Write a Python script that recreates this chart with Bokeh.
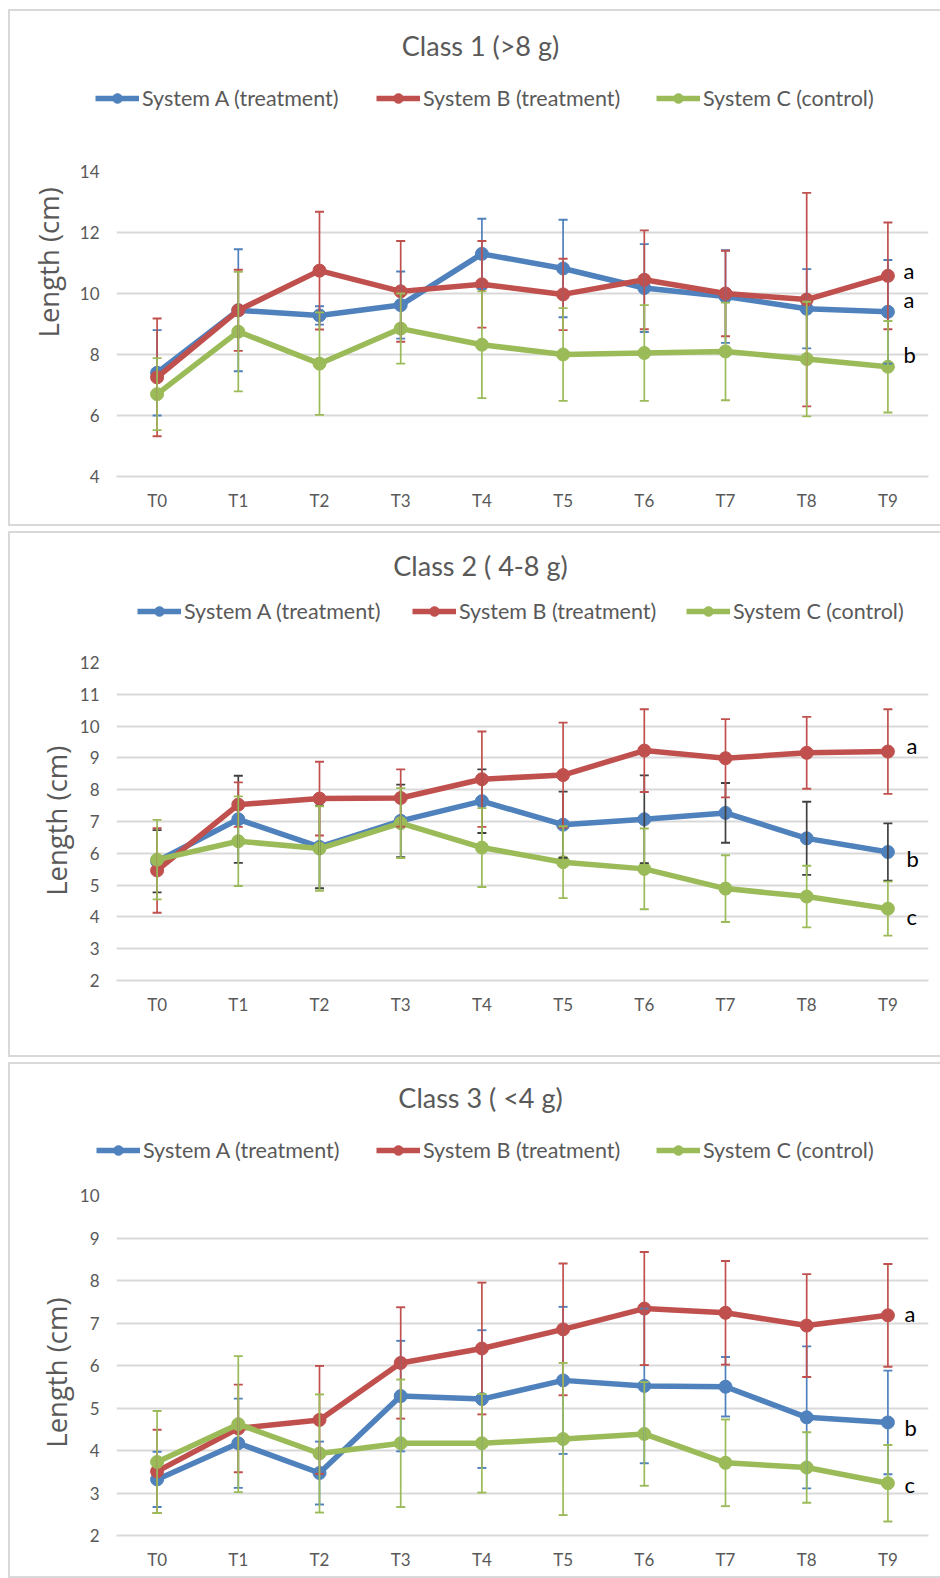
from bokeh.plotting import figure
from bokeh.models import (ColumnDataSource, Whisker, TeeHead, Label, Legend, LegendItem,
                          FixedTicker, FactorRange, Range1d, Spacer)
from bokeh.layouts import column, row
from bokeh.embed import file_html
from bokeh.resources import INLINE

times = ["T0", "T1", "T2", "T3", "T4", "T5", "T6", "T7", "T8", "T9"]
series_names = ["System A (treatment)", "System B (treatment)", "System C (control)"]

# Class 1 (>8 g)
c1_a_mean = [7.4, 9.45, 9.28, 9.62, 11.3, 10.82, 10.18, 9.9, 9.5, 9.4]
c1_a_sd = [1.4, 2.0, 0.3, 1.1, 1.15, 1.6, 1.44, 1.52, 1.3, 1.7]
c1_b_mean = [7.25, 9.45, 10.75, 10.07, 10.3, 9.97, 10.45, 10.0, 9.8, 10.58]
c1_b_sd = [1.93, 1.33, 1.93, 1.65, 1.42, 1.17, 1.62, 1.4, 3.5, 1.75]
c1_c_mean = [6.7, 8.75, 7.7, 8.85, 8.32, 8.0, 8.05, 8.1, 7.85, 7.6]
c1_c_sd = [1.18, 1.96, 1.68, 1.15, 1.75, 1.52, 1.57, 1.6, 1.88, 1.5]
c1_letters = ["a", "a", "b"]
c1_ticks = [4, 6, 8, 10, 12, 14]

# Class 2 (4-8 g)
c2_a_mean = [5.75, 7.07, 6.2, 7.02, 7.64, 6.9, 7.07, 7.27, 6.47, 6.04]
c2_a_sd = [0.98, 1.37, 1.3, 1.14, 1.0, 1.04, 1.38, 0.94, 1.15, 0.9]
c2_b_mean = [5.46, 7.53, 7.72, 7.74, 8.33, 8.46, 9.23, 8.99, 9.16, 9.2]
c2_b_sd = [1.33, 0.7, 1.16, 0.9, 1.5, 1.65, 1.3, 1.23, 1.13, 1.33]
c2_c_mean = [5.8, 6.38, 6.15, 6.95, 6.18, 5.72, 5.51, 4.89, 4.64, 4.26]
c2_c_sd = [1.25, 1.41, 1.33, 1.1, 1.24, 1.13, 1.27, 1.05, 0.97, 0.85]
c2_letters = ["a", "b", "c"]
c2_ticks = [2, 3, 4, 5, 6, 7, 8, 9, 10, 11, 12]

# Class 3 (<4 g)
c3_a_mean = [3.32, 4.17, 3.47, 5.28, 5.21, 5.65, 5.52, 5.5, 4.78, 4.66]
c3_a_sd = [0.65, 1.05, 0.74, 1.3, 1.62, 1.73, 1.82, 0.7, 1.67, 1.22]
c3_b_mean = [3.51, 4.52, 4.72, 6.06, 6.4, 6.85, 7.34, 7.24, 6.94, 7.18]
c3_b_sd = [0.98, 1.03, 1.27, 1.31, 1.55, 1.55, 1.33, 1.22, 1.21, 1.21]
c3_c_mean = [3.73, 4.62, 3.93, 4.17, 4.17, 4.27, 4.39, 3.71, 3.6, 3.23]
c3_c_sd = [1.2, 1.6, 1.39, 1.5, 1.16, 1.79, 1.22, 1.02, 0.83, 0.9]
c3_letters = ["a", "b", "c"]
c3_ticks = [2, 3, 4, 5, 6, 7, 8, 9, 10]

BLUE = "#4F81BD"
RED = "#C0504D"
GREEN = "#9BBB59"
GRID = "#D9D9D9"
TXT = "#595959"
FONT = "Lato"
W = 930
LABW = 66
NAN = float("nan")


def blank_fig(w, h):
    f = figure(width=w, height=h, output_backend="svg", toolbar_location=None,
               x_range=Range1d(0, w), y_range=Range1d(h, 0),
               x_axis_location=None, y_axis_location=None,
               min_border_left=0, min_border_right=0, min_border_top=0, min_border_bottom=0)
    f.outline_line_color = None
    f.xgrid.visible = False
    f.ygrid.visible = False
    return f


def make_panel(title, means, sds, err_colors, ticks, letters, letter_y, cfg):
    colors = [BLUE, RED, GREEN]
    hh = cfg["head_h"]
    mh = cfg["h"] - hh

    # header: title + legend
    head = blank_fig(W, hh)
    head.add_layout(Label(x=470, y=cfg["title_y"], text=title, text_align="center",
                          text_baseline="middle", text_font=FONT, text_font_size="27px",
                          text_color=TXT))
    for i in range(3):
        # legend-only renderers (no visible data)
        lr = head.line([NAN], [NAN], line_width=5.5, color=colors[i])
        sr = head.scatter([NAN], [NAN], size=11, color=colors[i])
        lg = Legend(items=[LegendItem(label=series_names[i], renderers=[lr, sr])],
                    location=(cfg["leg_x"][i], cfg["leg_y"]),
                    orientation="horizontal", glyph_width=44, glyph_height=24,
                    label_standoff=3, padding=0, margin=0, border_line_color=None,
                    background_fill_alpha=0, label_text_font=FONT,
                    label_text_font_size="21.5px", label_text_color=TXT, label_height=24)
        head.add_layout(lg)

    # y label strip
    ylab = blank_fig(LABW, mh)
    ylab.add_layout(Label(x=cfg["ylab_x"], y=cfg["ylab_y"], text="Length (cm)",
                          angle=1.5708, text_align="center", text_baseline="middle",
                          text_font="Open Sans", text_font_size="27.5px", text_color=TXT))

    # main chart
    p = figure(width=W - LABW, height=mh, output_backend="svg", toolbar_location=None,
               x_range=FactorRange(factors=times, range_padding=0),
               y_range=Range1d(ticks[0], ticks[-1]),
               min_border_left=40, min_border_right=12,
               min_border_top=cfg["top"], min_border_bottom=cfg["bottom"])
    p.outline_line_color = None
    p.xgrid.visible = False
    p.ygrid.grid_line_color = GRID
    p.ygrid.grid_line_width = 2
    p.yaxis.ticker = FixedTicker(ticks=ticks)
    for ax in (p.xaxis[0], p.yaxis[0]):
        ax.major_tick_line_color = None
        ax.minor_tick_line_color = None
        ax.major_tick_out = 0
        ax.major_tick_in = 0
        ax.major_label_text_font = FONT
        ax.major_label_text_font_size = "17px"
        ax.major_label_text_color = TXT
    p.yaxis.axis_line_color = None
    p.yaxis.major_label_standoff = 17
    p.xaxis.axis_line_color = GRID
    p.xaxis.axis_line_width = 2
    p.xaxis.major_label_standoff = 13

    for i in range(3):
        m, s = means[i], sds[i]
        src = ColumnDataSource(dict(x=times, upper=[a + b for a, b in zip(m, s)],
                                    lower=[a - b for a, b in zip(m, s)]))
        ec = err_colors[i]
        w = Whisker(source=src, base="x", upper="upper", lower="lower", dimension="height",
                    line_color=ec, line_width=1.7, level="glyph",
                    upper_head=TeeHead(size=9, line_color=ec, line_width=1.9),
                    lower_head=TeeHead(size=9, line_color=ec, line_width=1.9))
        p.add_layout(w)
    for i in range(3):
        p.line(times, means[i], line_width=5.5, color=colors[i])
        p.scatter(times, means[i], size=13, color=colors[i])

    for t, yv in zip(letters, letter_y):
        p.add_layout(Label(x=cfg["let_x"], y=yv, x_units="screen", y_units="data",
                           text=t, text_align="left", text_baseline="middle",
                           text_font=FONT, text_font_size="22px", text_color="#000000"))

    panel = column(head, row(ylab, p, spacing=0), spacing=0)
    panel.styles = {"border-left": "2px solid #D9D9D9", "border-top": "2px solid #D9D9D9",
                    "border-bottom": "2px solid #D9D9D9"}
    return panel


p1 = make_panel("Class 1 (>8 g)",
                [c1_a_mean, c1_b_mean, c1_c_mean], [c1_a_sd, c1_b_sd, c1_c_sd],
                [BLUE, RED, GREEN], c1_ticks, c1_letters, [10.75, 9.8, 8.0],
                dict(h=513, head_h=120, top=40, bottom=48, leg_x=[85, 366, 646], leg_y=20,
                     title_y=34, ylab_x=38, ylab_y=117, let_x=787))
p2 = make_panel("Class 2 ( 4-8 g)",
                [c2_a_mean, c2_b_mean, c2_c_mean], [c2_a_sd, c2_b_sd, c2_c_sd],
                ["#404040", RED, GREEN], c2_ticks, c2_letters, [9.38, 5.83, 4.0],
                dict(h=522, head_h=100, top=29, bottom=75, leg_x=[127, 402, 676], leg_y=9,
                     title_y=32, ylab_x=46, ylab_y=210, let_x=790))
p3 = make_panel("Class 3 ( <4 g)",
                [c3_a_mean, c3_b_mean, c3_c_mean], [c3_a_sd, c3_b_sd, c3_c_sd],
                [BLUE, RED, GREEN], c3_ticks, c3_letters, [7.22, 4.53, 3.19],
                dict(h=512, head_h=105, top=26, bottom=41, leg_x=[86, 366, 646], leg_y=6,
                     title_y=33, ylab_x=46, ylab_y=212, let_x=788))

layout = row(Spacer(width=8, height=1),
             column(Spacer(width=1, height=4), p1, p2, p3, spacing=5),
             spacing=0)
open("out.html", "w").write(file_html(layout, INLINE))
